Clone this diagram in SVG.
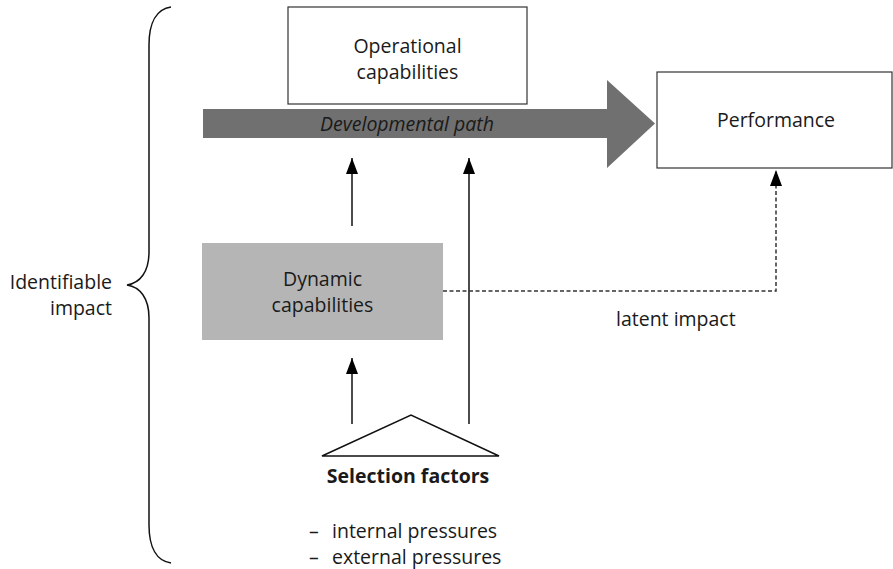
<svg xmlns="http://www.w3.org/2000/svg" width="893" height="569" viewBox="0 0 893 569">
<style>
text{font-family:"Open Sans","Noto Sans","Liberation Sans",sans-serif;font-size:19.5px;fill:#1a1a1a}
.c{text-anchor:middle}
.box{fill:#fff;stroke:#333;stroke-width:1.2}
.ln{stroke:#111;stroke-width:1.5;fill:none}
.dash{stroke:#333;stroke-width:1.5;fill:none;stroke-dasharray:4 2.5}
</style>
<defs>
<marker id="ah" viewBox="0 0 16 12" refX="16" refY="6" markerWidth="16" markerHeight="12" markerUnits="userSpaceOnUse" orient="auto">
<path d="M0,0 L16,6 L0,12 Z" fill="#000"/>
</marker>
</defs>
<g id="brace"><path class="ln" d="M171,7 C157,9 149,22 149,45 L149,252 C149,272 140,283 127,285 C140,287 149,298 149,318 L149,525 C149,548 157,561 171,563"/>
<text x="112" y="289" text-anchor="end">Identifiable</text>
<text x="112" y="315" text-anchor="end">impact</text></g>
<g id="devpath"><path d="M203,109 L607,109 L607,80 L655,123.5 L607,168 L607,138 L203,138 Z" fill="#707070"/>
<text class="c" x="407" y="131" font-style="italic">Developmental path</text></g>
<g id="operational"><rect class="box" x="288" y="7" width="239" height="97"/>
<text class="c" x="407.5" y="53">Operational</text><text class="c" x="407.5" y="79">capabilities</text></g>
<g id="performance"><rect class="box" x="657" y="72" width="235" height="96"/>
<text class="c" x="776" y="127">Performance</text></g>
<g id="dynamic"><rect x="202" y="243" width="241" height="97" fill="#b5b5b5"/>
<text class="c" x="322.5" y="286">Dynamic</text><text class="c" x="322.5" y="312">capabilities</text></g>
<g id="selection"><path class="ln" d="M322,456 L411,415 L499,456 Z" stroke-width="1.5"/>
<text class="c" x="408" y="483" font-weight="bold">Selection factors</text>
<text x="309" y="538">–</text><text x="332" y="538">internal pressures</text>
<text x="309" y="564">–</text><text x="332" y="564">external pressures</text></g>
<g id="connectors">
<line class="ln" x1="352" y1="226" x2="352" y2="158" marker-end="url(#ah)"/>
<line class="ln" x1="469" y1="424" x2="469" y2="158" marker-end="url(#ah)"/>
<line class="ln" x1="352" y1="424" x2="352" y2="358" marker-end="url(#ah)"/>
<path class="dash" d="M443,291 L776,291 L776,170" marker-end="url(#ah)"/>
<text x="616" y="326">latent impact</text>
</g>
</svg>
